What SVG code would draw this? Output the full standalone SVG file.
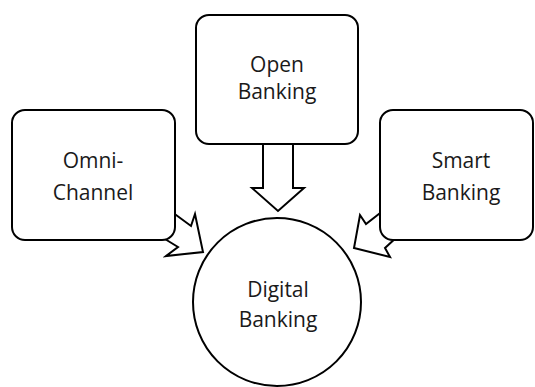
<svg xmlns="http://www.w3.org/2000/svg" width="535" height="387" viewBox="0 0 535 387">
  <style>
    .shape { fill: #ffffff; stroke: #000000; stroke-width: 2; stroke-linejoin: miter; }
    .label { font-family: "Open Sans", "Liberation Sans", sans-serif; font-size: 21px; fill: #1a1a1a; text-anchor: middle; }
  </style>
  <rect width="535" height="387" fill="#ffffff"/>
  <g id="connectors">
    <!-- block arrows pointing into the central circle -->
    <polygon class="shape" points="263,140 293,140 293,188 304,188 278,211 252,188 263,188"/>
    <polygon class="shape" points="172,212 191,226 195,214 203,252 166,256 178,247 160,236"/>
    <polygon class="shape" points="384,210 366,224 360,215 354,248 390,257 385,248 398,236"/>
  </g>
  <g id="open-banking">
    <rect class="shape" x="196" y="15" width="162" height="129" rx="13"/>
    <text class="label" x="277" y="72">Open</text>
    <text class="label" x="277" y="99">Banking</text>
  </g>
  <g id="omni-channel">
    <rect class="shape" x="12" y="110" width="163" height="130" rx="13"/>
    <text class="label" x="93" y="168">Omni-</text>
    <text class="label" x="93" y="200">Channel</text>
  </g>
  <g id="smart-banking">
    <rect class="shape" x="380" y="110" width="153" height="130" rx="13"/>
    <text class="label" x="461" y="168">Smart</text>
    <text class="label" x="461" y="200">Banking</text>
  </g>
  <g id="digital-banking">
    <circle class="shape" cx="277" cy="302" r="84"/>
    <text class="label" x="278" y="297">Digital</text>
    <text class="label" x="278" y="327">Banking</text>
  </g>
</svg>
